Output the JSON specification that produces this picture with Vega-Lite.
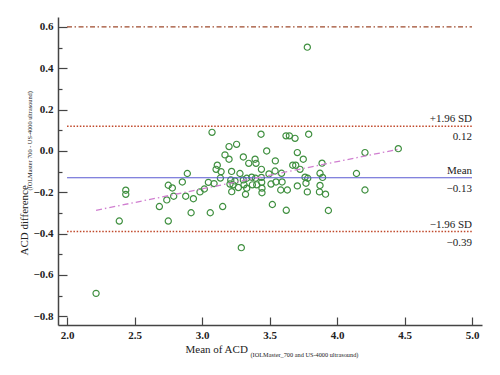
{
  "$schema": "https://vega.github.io/schema/vega-lite/v6.json",
  "width": 424,
  "height": 308,
  "autosize": {"type": "none"},
  "padding": {"left": 58, "top": 17, "right": 18, "bottom": 50},
  "background": "white",
  "config": {
    "view": {"stroke": null},
    "font": "Liberation Serif",
    "axis": {"grid": false, "domainColor": "#444", "domainWidth": 1.5, "tickColor": "#444", "tickWidth": 1.2, "labelColor": "#222", "titleColor": "#222", "labelFont": "Liberation Serif", "titleFont": "Liberation Serif", "titleFontWeight": "normal"}
  },
  "datasets": {
    "points": [
      {"x":2.215,"y":-0.689},{"x":2.387,"y":-0.339},{"x":2.435,"y":-0.19},{"x":2.435,"y":-0.21},
      {"x":2.684,"y":-0.269},{"x":2.75,"y":-0.339},{"x":2.739,"y":-0.237},{"x":2.75,"y":-0.166},
      {"x":2.78,"y":-0.179},{"x":2.79,"y":-0.219},{"x":2.854,"y":-0.15},{"x":2.891,"y":-0.109},
      {"x":2.879,"y":-0.219},{"x":2.936,"y":-0.231},{"x":2.919,"y":-0.299},{"x":2.985,"y":-0.198},
      {"x":3.017,"y":-0.184},{"x":3.047,"y":-0.152},{"x":3.061,"y":-0.299},{"x":3.074,"y":0.09},
      {"x":3.089,"y":-0.158},{"x":3.113,"y":-0.069},{"x":3.104,"y":-0.089},{"x":3.141,"y":-0.1},
      {"x":3.136,"y":-0.131},{"x":3.153,"y":-0.269},{"x":3.17,"y":-0.019},{"x":3.2,"y":-0.04},
      {"x":3.2,"y":0.021},{"x":3.256,"y":0.032},{"x":3.219,"y":-0.099},{"x":3.213,"y":-0.14},
      {"x":3.207,"y":-0.16},{"x":3.22,"y":-0.197},{"x":3.244,"y":-0.145},{"x":3.281,"y":-0.109},
      {"x":3.269,"y":-0.177},{"x":3.306,"y":-0.029},{"x":3.306,"y":-0.14},{"x":3.311,"y":-0.164},
      {"x":3.322,"y":-0.21},{"x":3.291,"y":-0.468},{"x":3.331,"y":-0.18},{"x":3.331,"y":-0.132},
      {"x":3.346,"y":-0.06},{"x":3.368,"y":-0.127},{"x":3.373,"y":-0.164},{"x":3.396,"y":-0.132},
      {"x":3.393,"y":-0.04},{"x":3.4,"y":-0.06},{"x":3.405,"y":-0.164},{"x":3.437,"y":0.081},
      {"x":3.44,"y":-0.089},{"x":3.44,"y":-0.128},{"x":3.442,"y":-0.152},{"x":3.444,"y":-0.18},
      {"x":3.444,"y":-0.202},{"x":3.479,"y":0.0},{"x":3.496,"y":-0.111},{"x":3.541,"y":-0.097},
      {"x":3.543,"y":-0.048},{"x":3.511,"y":-0.16},{"x":3.548,"y":-0.15},{"x":3.521,"y":-0.259},
      {"x":3.589,"y":-0.108},{"x":3.593,"y":-0.15},{"x":3.583,"y":-0.189},{"x":3.632,"y":-0.189},
      {"x":3.624,"y":-0.287},{"x":3.622,"y":0.073},{"x":3.647,"y":0.073},{"x":3.689,"y":0.061},
      {"x":3.706,"y":-0.008},{"x":3.672,"y":-0.069},{"x":3.694,"y":-0.069},{"x":3.726,"y":-0.089},
      {"x":3.706,"y":-0.169},{"x":3.75,"y":-0.04},{"x":3.763,"y":-0.127},{"x":3.783,"y":-0.132},
      {"x":3.77,"y":-0.156},{"x":3.78,"y":-0.198},{"x":3.79,"y":0.081},{"x":3.78,"y":0.502},
      {"x":3.874,"y":-0.108},{"x":3.889,"y":-0.059},{"x":3.893,"y":-0.128},{"x":3.874,"y":-0.167},
      {"x":3.87,"y":-0.198},{"x":3.915,"y":-0.209},{"x":3.936,"y":-0.288},{"x":4.144,"y":-0.109},
      {"x":4.207,"y":-0.008},{"x":4.207,"y":-0.189},{"x":4.454,"y":0.011},{"x":3.23,"y":-0.164}
    ],
    "fit": [{"x": 2.215, "y": -0.287}, {"x": 4.454, "y": 0.008}],
    "upper": [{"value": 0.6}],
    "limits": [{"value": 0.12}, {"value": -0.39}],
    "mean": [{"value": -0.13}],
    "labels": [
      {"value": 0.12, "top": "+1.96 SD", "bottom": "0.12"},
      {"value": -0.13, "top": "Mean", "bottom": "−0.13"},
      {"value": -0.39, "top": "−1.96 SD", "bottom": "−0.39"}
    ]
  },
  "layer": [
    {
      "data": {"name": "points"},
      "mark": {"type": "point", "shape": "circle", "filled": false, "size": 38, "strokeWidth": 1.2, "color": "#3f8f3f", "opacity": 1},
      "encoding": {
        "x": {"field": "x", "type": "quantitative",
          "scale": {"domain": [1.933, 5.074], "nice": false, "zero": false},
          "axis": {"orient": "bottom", "values": [2, 2.5, 3, 3.5, 4, 4.5, 5], "format": ".1f", "tickSize": -8, "labelPadding": 12, "labelFontSize": 11, "labelFontWeight": "bold",
            "title": "Mean of ACD", "titleFontSize": 11, "titleX": 127, "titleY": 27, "titleAlign": "left", "titleBaseline": "alphabetic", "titleAnchor": "start"}},
        "y": {"field": "y", "type": "quantitative",
          "scale": {"domain": [-0.842, 0.648], "nice": false, "zero": false},
          "axis": {"orient": "left", "values": [-0.8, -0.6, -0.4, -0.2, 0, 0.2, 0.4, 0.6], "format": ".1f", "tickSize": -9, "labelPadding": 14, "labelFontSize": 11, "labelFontWeight": "bold",
            "title": "ACD difference", "titleFontSize": 11, "titleAngle": 270, "titleX": -31, "titleY": 238, "titleAlign": "left", "titleBaseline": "alphabetic", "titleAnchor": "start"}}
      }
    },
    {
      "data": {"name": "mean"},
      "mark": {"type": "rule", "color": "#5a5ad2", "strokeWidth": 1.1},
      "encoding": {
        "x": {"datum": 2, "type": "quantitative",
          "axis": {"orient": "bottom", "ticks": false, "labels": false, "domain": false,
            "title": "(IOLMaster_700 and US-4000 ultrasound)", "titleFontSize": 6.3, "titleX": 192, "titleY": 31, "titleAlign": "left", "titleBaseline": "alphabetic", "titleAnchor": "start"}},
        "x2": {"datum": 5},
        "y": {"field": "value", "type": "quantitative",
          "axis": {"orient": "left", "values": [-0.7, -0.5, -0.3, -0.1, 0.1, 0.3, 0.5], "tickSize": -4, "labels": false, "domain": false,
            "title": "(IOLMaster 700 - US-4000 ultrasound)", "titleFontSize": 6.3, "titleAngle": 270, "titleX": -27, "titleY": 173, "titleAlign": "left", "titleBaseline": "alphabetic", "titleAnchor": "start"}}
      }
    },
    {
      "data": {"name": "upper"},
      "mark": {"type": "rule", "color": "#9e4a2c", "strokeWidth": 1.3, "strokeDash": [5, 2.5, 1.5, 2.5]},
      "encoding": {
        "x": {"datum": 2, "type": "quantitative", "axis": null},
        "x2": {"datum": 5},
        "y": {"field": "value", "type": "quantitative", "axis": null}
      }
    },
    {
      "data": {"name": "limits"},
      "mark": {"type": "rule", "color": "#c0482a", "strokeWidth": 1.5, "strokeDash": [1.5, 1.7]},
      "encoding": {
        "x": {"datum": 2, "type": "quantitative", "axis": null},
        "x2": {"datum": 5},
        "y": {"field": "value", "type": "quantitative", "axis": null}
      }
    },
    {
      "data": {"name": "fit"},
      "mark": {"type": "line", "color": "#d07fd0", "strokeWidth": 1.3, "strokeDash": [6, 3, 1.5, 3]},
      "encoding": {
        "x": {"field": "x", "type": "quantitative", "axis": null},
        "y": {"field": "y", "type": "quantitative", "axis": null}
      }
    },
    {
      "data": {"name": "labels"},
      "mark": {"type": "text", "align": "right", "baseline": "alphabetic", "dy": -4, "fontSize": 11, "font": "Liberation Serif", "color": "#222"},
      "encoding": {
        "x": {"datum": 5, "type": "quantitative", "axis": null},
        "y": {"field": "value", "type": "quantitative", "axis": null},
        "text": {"field": "top"}
      }
    },
    {
      "data": {"name": "labels"},
      "mark": {"type": "text", "align": "right", "baseline": "top", "dy": 5, "fontSize": 11, "font": "Liberation Serif", "color": "#222"},
      "encoding": {
        "x": {"datum": 5, "type": "quantitative", "axis": null},
        "y": {"field": "value", "type": "quantitative", "axis": null},
        "text": {"field": "bottom"}
      }
    }
  ],
  "resolve": {"axis": {"x": "independent", "y": "independent"}}
}
